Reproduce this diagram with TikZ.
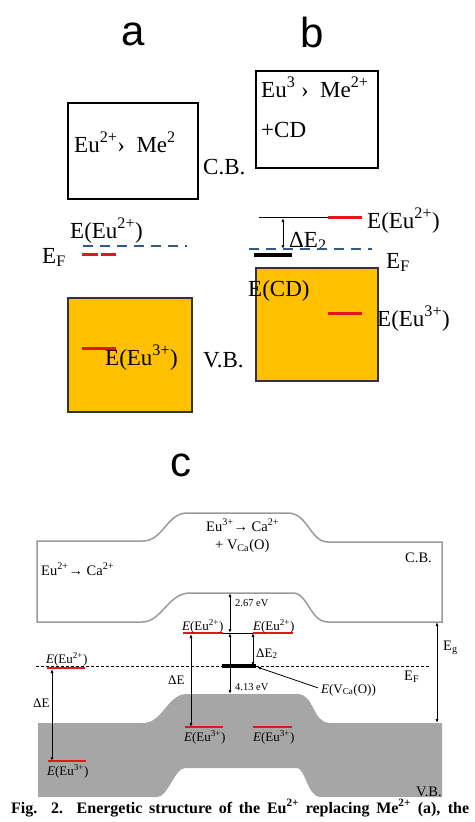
\documentclass[tikz,border=0pt]{standalone}
\usepackage{fontspec}
\setmainfont{Liberation Serif}
\newfontfamily\arialf{Liberation Sans}
\usetikzlibrary{arrows.meta}
\definecolor{orng}{HTML}{FFC000}
\definecolor{bluedsh}{HTML}{2E5A8C}
\definecolor{redl}{HTML}{E8141B}
\definecolor{grayline}{HTML}{9A9A9A}
\definecolor{grayfill}{HTML}{A6A6A6}
\tikzset{
  plabel/.style={font=\arialf\fontsize{42}{42}\selectfont, inner sep=0pt},
  bigtxt/.style={font=\fontsize{23}{23}\selectfont, inner sep=0pt, anchor=base west},
  ctxt/.style={font=\fontsize{14.5}{14.5}\selectfont, inner sep=0pt, anchor=base west},
  lbl/.style={font=\fontsize{13}{13}\selectfont, inner sep=0pt, anchor=base west},
  evtxt/.style={font=\fontsize{10.5}{10.5}\selectfont, inner sep=0pt, anchor=base west},
  cbbox/.style={draw=black, line width=1.1pt, fill=white, inner sep=0pt},
  vbbox/.style={draw=black!80, line width=1.1pt, fill=orng, inner sep=0pt},
  bluedash/.style={draw=bluedsh, line width=2pt, dash pattern=on 10pt off 7pt},
  redbar/.style={draw=redl, line width=3pt},
  redthin/.style={draw=redl, line width=2.4pt},
  blackbar/.style={draw=black, line width=3.2pt},
  dbl/.style={draw=black, line width=0.8pt, {Latex[length=4pt,width=3pt]}-{Latex[length=4pt,width=3pt]}},
  sgl/.style={draw=black, line width=0.8pt, -{Latex[length=4pt,width=3pt]}},
}
\begin{document}
\begin{tikzpicture}[x=1pt,y=-1pt]
\useasboundingbox (0,0) rectangle (474,822);
% ---------------- panel a ----------------
\node[plabel] (la) at (133,34) {a};
\node[cbbox, minimum width=130pt, minimum height=96pt] (cba) at (133,151) {};
\node[bigtxt] (cbat) at (74,152) {Eu\textsuperscript{2+}›\ \ Me\textsuperscript{2}};
\node[bigtxt] (cbl) at (203,174) {C.B.};
\node[bigtxt] (eu2a) at (70,238) {E(Eu\textsuperscript{2+})};
\coordinate (bda1) at (83,246); \coordinate (bda2) at (187,246);
\draw[bluedash] (bda1) -- (bda2);
\coordinate (rda1) at (82,254); \coordinate (rda2) at (116,254);
\draw[redbar, dash pattern=on 16pt off 3pt] (rda1) -- (rda2);
\node[bigtxt] (efa) at (42,263) {E\textsubscript{F}};
\node[vbbox, minimum width=124pt, minimum height=114pt] (vba) at (130,355) {};
\coordinate (ra1) at (82,348); \coordinate (ra2) at (116,348);
\draw[redbar] (ra1) -- (ra2);
\node[bigtxt] (eu3a) at (105,365) {E(Eu\textsuperscript{3+})};
\node[bigtxt] (vbl) at (203,367) {V.B.};
% ---------------- panel b ----------------
\node[plabel] (lb) at (312,32) {b};
\node[cbbox, minimum width=122pt, minimum height=97pt] (cbb) at (317,119.5) {};
\node[bigtxt] (cbbt) at (261,97) {Eu\textsuperscript{3}\ ›\ \ Me\textsuperscript{2+}};
\node[bigtxt] (cbbcd) at (261,137) {+CD};
\coordinate (tb1) at (259,217); \coordinate (tb2) at (328,217); \coordinate (tb3) at (362,217);
\draw[black, line width=0.8pt] (tb1) -- (tb2);
\draw[redbar] (tb2) -- (tb3);
\node[bigtxt] (eu2b) at (367,228) {E(Eu\textsuperscript{2+})};
\coordinate (dbt) at (283,218); \coordinate (dbb) at (283,249);
\draw[dbl] (dbt) -- (dbb);
\node[bigtxt] (de2b) at (289,247) {ΔE\textsubscript{2}};
\coordinate (bdb1) at (249,249); \coordinate (bdb2) at (372,249);
\draw[bluedash] (bdb1) -- (bdb2);
\node[vbbox, minimum width=122pt, minimum height=113pt] (vbb) at (317,324.5) {};
\coordinate (cd1) at (254,255); \coordinate (cd2) at (292,255);
\draw[blackbar] (cd1) -- (cd2);
\node[bigtxt] (efb) at (386,268) {E\textsubscript{F}};
\node[bigtxt] (ecd) at (248,296) {E(CD)};
\coordinate (rb1) at (328,313); \coordinate (rb2) at (362,313);
\draw[redbar] (rb1) -- (rb2);
\node[bigtxt] (eu3b) at (377,326) {E(Eu\textsuperscript{3+})};
% ---------------- panel c ----------------
\node[plabel] (lc) at (181,465) {c};
\fill[grayfill] (38,723) -- (143,723) .. controls (163,723) and (167,694) .. (187,694)
  -- (297,694) .. controls (315,694) and (312,723) .. (330,723) -- (442,723) -- (442,797)
  -- (320,797) .. controls (308,797) and (305,768) .. (297,768) -- (185,768)
  .. controls (175,768) and (168,797) .. (157,797) -- (38,797) -- cycle;
\draw[grayline, line width=1.5pt] (37,541) -- (143,541) .. controls (163,541) and (167,513) .. (187,513)
  -- (288,513) .. controls (308,513) and (310,542) .. (328,542) -- (442,542) -- (442,622)
  -- (328,622) .. controls (310,622) and (308,593) .. (293,593) -- (190,593)
  .. controls (168,593) and (162,622) .. (142,622) -- (37,622) -- cycle;
\coordinate (ef1) at (36,666); \coordinate (ef2) at (430,666);
\draw[black, line width=0.5pt, dash pattern=on 3pt off 2pt] (ef1) -- (ef2);
\node[ctxt] (c1t) at (41,575) {Eu\textsuperscript{2+}→ Ca\textsuperscript{2+}};
\node[ctxt] (c2t) at (206,531) {Eu\textsuperscript{3+}→ Ca\textsuperscript{2+}};
\node[ctxt] (c3t) at (215,549) {+ V\textsubscript{Ca}(O)};
\node[ctxt] (cbc) at (405,562) {C.B.};
\node[ctxt] (egc) at (443,650) {E\textsubscript{g}};
\node[ctxt] (efc) at (404,680) {E\textsubscript{F}};
\node[ctxt] (vbc) at (416,796) {V.B.};
% levels
\coordinate (l1a) at (47,668); \coordinate (l1b) at (85,668);
\draw[redthin] (l1a) -- (l1b);
\node[lbl] (l1t) at (46,663) {\textit{E}(Eu\textsuperscript{2+})};
\coordinate (l2a) at (48,761); \coordinate (l2b) at (86,761);
\draw[redthin] (l2a) -- (l2b);
\node[lbl] (l2t) at (47,775) {\textit{E}(Eu\textsuperscript{3+})};
\coordinate (m1a) at (183,633); \coordinate (m1b) at (223,633);
\draw[redthin] (m1a) -- (m1b);
\node[lbl] (m1t) at (182,630) {\textit{E}(Eu\textsuperscript{2+})};
\coordinate (m2a) at (253,633); \coordinate (m2b) at (293,633);
\draw[redthin] (m2a) -- (m2b);
\node[lbl] (m2t) at (253,630) {\textit{E}(Eu\textsuperscript{2+})};
\draw[black, line width=0.6pt] (m1b) -- (m2a);
\coordinate (m3a) at (185,727); \coordinate (m3b) at (223,727);
\draw[redthin] (m3a) -- (m3b);
\node[lbl] (m3t) at (184,741) {\textit{E}(Eu\textsuperscript{3+})};
\coordinate (m4a) at (253,727); \coordinate (m4b) at (292,727);
\draw[redthin] (m4a) -- (m4b);
\node[lbl] (m4t) at (253,741) {\textit{E}(Eu\textsuperscript{3+})};
\coordinate (va1) at (222,666); \coordinate (va2) at (256,666);
\draw[blackbar] (va1) -- (va2);
% arrows
\coordinate (a1t) at (230,593); \coordinate (a1m) at (230,633); \coordinate (a1b) at (230,694);
\draw[dbl] (a1t) -- (a1m);
\draw[dbl] (a1m) -- (a1b);
\node[evtxt] (ev1) at (235,606) {2.67 eV};
\node[evtxt] (ev2) at (235,690) {4.13 eV};
\coordinate (d2t) at (253,633); \coordinate (d2b) at (253,666);
\draw[dbl] (d2t) -- (d2b);
\node[lbl] (d2l) at (256,657) {ΔE\textsubscript{2}};
\coordinate (dmt) at (191,634); \coordinate (dmb) at (191,727);
\draw[dbl] (dmt) -- (dmb);
\node[lbl] (dml) at (168,684) {ΔE};
\coordinate (dlt) at (52,669); \coordinate (dlb) at (52,761);
\draw[dbl] (dlt) -- (dlb);
\node[lbl] (dll) at (33,707) {ΔE};
\coordinate (egt) at (437,622); \coordinate (egb) at (437,723);
\draw[dbl] (egt) -- (egb);
\node[lbl] (vcal) at (321,693) {\textit{E}(V\textsubscript{Ca}(O))};
\coordinate (pt) at (257,667);
\draw[sgl] (vcal.west) ++(-3,-2) -- (pt);
% caption
\node[font=\bfseries\fontsize{16}{16}\selectfont, inner sep=0pt, anchor=base west] (cap) at (11,813)
  {\makebox[458pt][s]{Fig. 2. Energetic structure of the Eu\textsuperscript{2+} replacing Me\textsuperscript{2+} (a), the}};
\end{tikzpicture}
\end{document}
